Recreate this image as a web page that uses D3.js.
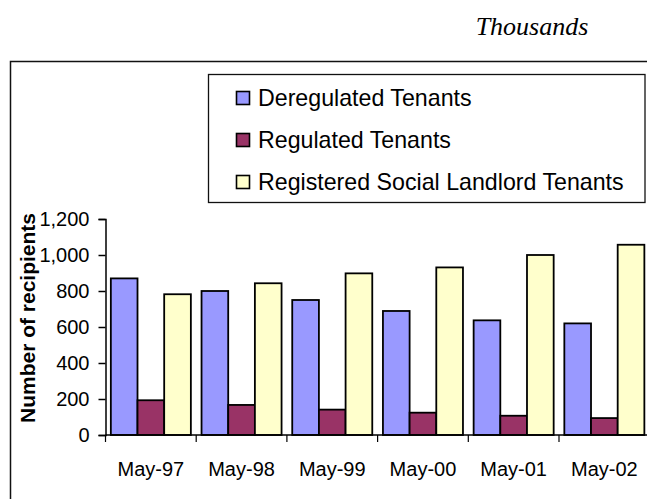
<!DOCTYPE html>
<html>
<head>
<meta charset="utf-8">
<script src="https://cdn.jsdelivr.net/npm/d3@7"></script>
<style>
  body { margin: 0; background: #fff; }
  svg { display: block; }
</style>
</head>
<body>
<div class="chart"></div>
<script>
const months = ["May-97", "May-98", "May-99", "May-00", "May-01", "May-02"];
const seriesNames = ["Deregulated Tenants", "Regulated Tenants", "Registered Social Landlord Tenants"];
const deregulated = [870, 800, 750, 689, 637, 620];
const regulated = [193, 167, 141, 124, 107, 94];
const rsl = [782, 843, 898, 931, 1000, 1057];
const yTicks = [0, 200, 400, 600, 800, 1000, 1200];
const colors = ["#9999ff", "#993366", "#ffffcc"];

const width = 647;
const height = 499;
const sans = "'Liberation Sans', Arial, sans-serif";

const svg = d3.select(".chart")
              .append("svg")
              .attr("width", width)
              .attr("height", height);

// outer frame (bottom/right run off the page)
svg.append("rect")
  .attr("x", 10.5)
  .attr("y", 61.5)
  .attr("width", 700)
  .attr("height", 500)
  .attr("fill", "none")
  .attr("stroke", "#111")
  .attr("stroke-width", 1.5);

svg.append("text")
  .attr("x", 532)
  .attr("y", 35)
  .attr("text-anchor", "middle")
  .style("font-family", "'Liberation Serif', 'Times New Roman', serif")
  .style("font-style", "italic")
  .style("font-size", "26px")
  .text("Thousands");

const left = 105.5, plotTop = 219, plotBottom = 435;
const x0 = d3.scaleBand()
             .domain(months)
             .range([left, left + 6 * 90.7])
             .padding(0);
const x1 = d3.scaleBand()
             .domain(d3.range(3))
             .range([0, x0.bandwidth()])
             .paddingInner(0)
             .paddingOuter(0.2);
const y = d3.scaleLinear()
            .domain([0, 1200])
            .range([plotBottom, plotTop]);

const rows = months.map((m, i) => ({ month: m, vals: [deregulated[i], regulated[i], rsl[i]] }));

const groups = svg.selectAll("g.grp")
  .data(rows)
  .enter()
  .append("g")
  .attr("class", "grp")
  .attr("transform", (d) => `translate(${x0(d.month)},0)`);

groups.selectAll("rect")
  .data((d) => d.vals)
  .enter()
  .append("rect")
  .attr("x", (d, i) => x1(i))
  .attr("y", (d) => y(d))
  .attr("width", x1.bandwidth())
  .attr("height", (d) => y(0) - y(d))
  .attr("fill", (d, i) => colors[i])
  .attr("stroke", "#000")
  .attr("stroke-width", 1.8);

// y axis
const yAxis = svg.append("g")
  .attr("transform", `translate(${left},0)`)
  .call(d3.axisLeft(y).tickValues(yTicks).tickFormat(d3.format(",")).tickSize(7).tickPadding(9));
yAxis.select(".domain").attr("stroke", "#000").attr("stroke-width", 1.5);
yAxis.selectAll(".tick line").attr("stroke", "#000").attr("stroke-width", 1.5);
yAxis.selectAll("text")
  .style("font-family", sans)
  .style("font-size", "20px")
  .attr("fill", "#000");

// x axis
const xAxis = svg.append("g")
  .attr("transform", `translate(0,${plotBottom})`);
xAxis.append("line")
  .attr("x1", left).attr("x2", width + 10)
  .attr("y1", 0).attr("y2", 0)
  .attr("stroke", "#000").attr("stroke-width", 1.5);
xAxis.selectAll("line.tk")
  .data(months)
  .enter()
  .append("line")
  .attr("class", "tk")
  .attr("x1", (d) => x0(d)).attr("x2", (d) => x0(d))
  .attr("y1", 0).attr("y2", 7)
  .attr("stroke", "#000").attr("stroke-width", 1.2);
xAxis.selectAll("text")
  .data(months)
  .enter()
  .append("text")
  .attr("x", (d) => x0(d) + x0.bandwidth() / 2)
  .attr("y", 41)
  .attr("text-anchor", "middle")
  .style("font-family", sans)
  .style("font-size", "20px")
  .text((d) => d);

svg.append("text")
  .attr("transform", "translate(35,318) rotate(-90)")
  .attr("text-anchor", "middle")
  .style("font-family", sans)
  .style("font-weight", "bold")
  .style("font-size", "21px")
  .text("Number of recipients");

// legend
const legend = svg.append("g");
legend.append("rect")
  .attr("x", 208.5).attr("y", 74.5)
  .attr("width", 436.5).attr("height", 128)
  .attr("fill", "#fff")
  .attr("stroke", "#111").attr("stroke-width", 1.3);
const items = legend.selectAll("g.item")
  .data(seriesNames)
  .enter()
  .append("g")
  .attr("class", "item")
  .attr("transform", (d, i) => `translate(236,${98 + i * 42})`);
items.append("rect")
  .attr("x", 0.5).attr("y", -6.5)
  .attr("width", 13).attr("height", 13)
  .attr("fill", (d, i) => colors[i])
  .attr("stroke", "#000").attr("stroke-width", 1.6);
items.append("text")
  .attr("x", 22)
  .attr("y", 8)
  .style("font-family", sans)
  .style("font-size", "23.2px")
  .text((d) => d);
</script>
</body>
</html>
